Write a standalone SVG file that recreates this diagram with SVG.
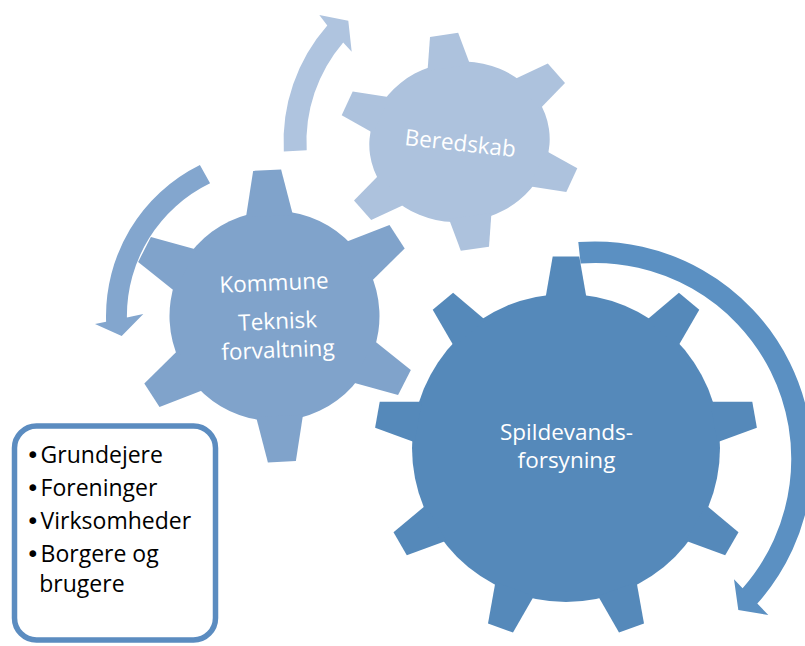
<svg xmlns="http://www.w3.org/2000/svg" width="805" height="646" viewBox="0 0 805 646">
<style>
.light{fill:#ADC2DD}
.med{fill:#80A3CB}
.big{fill:#5589BA}
.arrL{fill:#AFC4DF}
.arrM{fill:#83A6CE}
.arrB{fill:#5B90C2}
.gt{font-family:"Open Sans","DejaVu Sans",sans-serif;font-size:22.5px;fill:#FFFFFF;text-anchor:middle}
.bt{font-family:"Open Sans","DejaVu Sans",sans-serif;font-size:23px;fill:#000000}
.dot{font-family:"DejaVu Sans",sans-serif}
.box{fill:#FFFFFF;stroke:#5B8CC0;stroke-width:5.5}
</style>
<defs>
<polygon id="toothL" points="-19,-75 -12.6,-108 12.6,-108 19,-75"/>
<polygon id="toothM" points="-23.5,-100 -14,-146 14,-146 23.5,-100"/>
<polygon id="toothB" points="-20.5,-150 -13.3,-191.5 13.3,-191.5 20.5,-150"/>
</defs>

<g id="beredskab">
<g class="light" transform="translate(459.5,141.8) rotate(-8.2) scale(1.13,1)">
<circle r="80"/>
<use href="#toothL"/>
<use href="#toothL" transform="rotate(60)"/>
<use href="#toothL" transform="rotate(120)"/>
<use href="#toothL" transform="rotate(180)"/>
<use href="#toothL" transform="rotate(240)"/>
<use href="#toothL" transform="rotate(300)"/>
</g>
<text class="gt" x="459.5" y="151" transform="rotate(6.3 459.5 151)">Beredskab</text>
</g>

<g id="kommune">
<g class="med" transform="translate(274.5,316) rotate(-2.9)">
<circle r="105"/>
<use href="#toothM"/>
<use href="#toothM" transform="rotate(60)"/>
<use href="#toothM" transform="rotate(120)"/>
<use href="#toothM" transform="rotate(180)"/>
<use href="#toothM" transform="rotate(240)"/>
<use href="#toothM" transform="rotate(300)"/>
</g>
<text class="gt" x="274.3" y="290.5" transform="rotate(-2.4 274.3 290.5)">Kommune</text>
<text class="gt" x="278" y="329" transform="rotate(-2.4 278 329)">Teknisk</text>
<text class="gt" x="278.3" y="357.7" transform="rotate(-2.4 278.3 357.7)">forvaltning</text>
</g>

<g id="spildevand">
<g class="big" transform="translate(566,448)">
<circle r="154"/>
<use href="#toothB"/>
<use href="#toothB" transform="rotate(40)"/>
<use href="#toothB" transform="rotate(80)"/>
<use href="#toothB" transform="rotate(120)"/>
<use href="#toothB" transform="rotate(160)"/>
<use href="#toothB" transform="rotate(200)"/>
<use href="#toothB" transform="rotate(240)"/>
<use href="#toothB" transform="rotate(280)"/>
<use href="#toothB" transform="rotate(320)"/>
</g>
<text class="gt" x="566.5" y="439.6">Spildevands-</text>
<text class="gt" x="566.5" y="468.2">forsyning</text>
</g>

<g id="connectors">
<path class="arrL" d="M283.8,151.6 A176,176 0 0 1 327.3,25.6 L319.3,15 L348.3,20.7 L351.7,51.7 L343.2,42.4 A153,153 0 0 0 306.7,150.3 Z"/>
<path class="arrM" d="M199.9,165 A168.4,168.4 0 0 0 106.1,321.7 L95,324 L121.7,336 L143.3,314 L126.9,317.4 A147.5,147.5 0 0 1 210.1,183.3 Z"/>
<path class="arrB" d="M578.3,242.1 A217.5,217.5 0 0 1 757.3,603.6 L768.3,615 L738.3,610 L734,579.3 L742.6,588.2 A196,196 0 0 0 580.6,263.5 Z"/>
</g>

<g id="stakeholders">
<rect class="box" x="14.5" y="426" width="201" height="214" rx="22" ry="22"/>
<text class="bt" x="26" y="463.3"><tspan class="dot">•</tspan><tspan dx="1">Grundejere</tspan></text>
<text class="bt" x="26" y="496"><tspan class="dot">•</tspan><tspan dx="1">Foreninger</tspan></text>
<text class="bt" x="26" y="529.3"><tspan class="dot">•</tspan><tspan dx="1">Virksomheder</tspan></text>
<text class="bt" x="26" y="561.7"><tspan class="dot">•</tspan><tspan dx="1">Borgere og</tspan></text>
<text class="bt" x="39.3" y="591.7">brugere</text>
</g>
</svg>
